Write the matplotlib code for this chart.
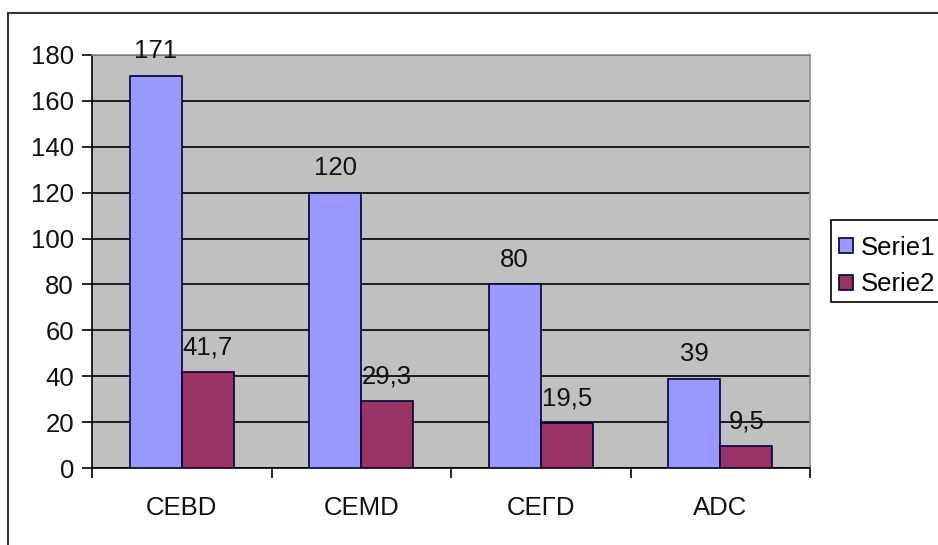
#Excel-style grouped bar chart: Serie1 vs Serie2
import numpy as np
import matplotlib
matplotlib.use("Agg")
import matplotlib.pyplot as plt
from matplotlib.lines import Line2D
from matplotlib.patches import Rectangle

#data
categories = ["CEBD", "CEMD", "CEPD", "ADC"]
tick_labels = ["CEBD", "CEMD", "CEΓD", "ADC"]
serie1 = [171, 120, 80, 39]
serie2 = [41.7, 29.3, 19.5, 9.5]
series_names = ["Serie1", "Serie2"]
y_ticks = [0, 20, 40, 60, 80, 100, 120, 140, 160, 180]

#style
BLUE = "#9999FF"
RED = "#993366"
BG = "#C0C0C0"
W = 938; H = 545
FS = 18.5

plt.rcParams["font.family"] = ["Liberation Sans", "DejaVu Sans"]

fig = plt.figure(figsize=(W / 100, H / 100), dpi=100)
fig.patch.set_facecolor("white")

#outer chart frame (top and left edges visible)
fig.add_artist(Line2D([8 / W, 1.0], [1 - 13 / H, 1 - 13 / H], color="#333333", lw=1.5, transform=fig.transFigure))
fig.add_artist(Line2D([8 / W, 8 / W], [1 - 13 / H, 0.0], color="#333333", lw=1.5, transform=fig.transFigure))

ax = fig.add_axes([92 / W, 1 - 468 / H, (810 - 92) / W, (468 - 55) / H])
ax.set_facecolor(BG)

x = np.arange(len(categories))
bw = 0.29
b1 = ax.bar(x - bw / 2, serie1, bw, color=BLUE, edgecolor="#000033", linewidth=1.2, label=series_names[0], zorder=3)
b2 = ax.bar(x + bw / 2, serie2, bw, color=RED, edgecolor="#000033", linewidth=1.2, label=series_names[1], zorder=3)

#value labels with comma decimals
def fmt(v):
    return f"{v:g}".replace(".", ",")

for bars, vals in ((b1, serie1), (b2, serie2)):
    for rect, v in zip(bars, vals):
        ax.annotate(fmt(v), (rect.get_x() + rect.get_width() / 2, v), xytext=(0, 9),
                    textcoords="offset points", ha="center", va="bottom", fontsize=FS, color="#111111",
                    annotation_clip=False)

ax.set_xlim(-0.5, len(categories) - 0.5)
ax.set_ylim(0, 180)
ax.set_yticks(y_ticks)
ax.set_yticklabels([str(t) for t in y_ticks], fontsize=FS, color="#111111")
ax.set_xticks(x)
ax.set_xticklabels(tick_labels, fontsize=FS, color="#111111")
ax.set_xticks(np.arange(len(categories) + 1) - 0.5, minor=True)
ax.tick_params(axis="x", which="major", length=0, pad=20)
ax.tick_params(axis="x", which="minor", length=7, width=1.2, direction="out")
ax.tick_params(axis="y", length=7, width=1.2, direction="out", pad=6)

ax.yaxis.grid(True, color="black", lw=1.2)
ax.set_axisbelow(True)

for s in ("left", "bottom"):
    ax.spines[s].set_color("black")
    ax.spines[s].set_linewidth(1.2)
for s in ("top", "right"):
    ax.spines[s].set_color("#8a8a8a")
    ax.spines[s].set_linewidth(1.2)

#legend box runs past the right edge, like in the original
fig.add_artist(Rectangle((831 / W, 1 - 302 / H), 120 / W, 82 / H, transform=fig.transFigure,
                         facecolor="white", edgecolor="black", lw=1.2))
leg = fig.legend(handles=[b1, b2], labels=series_names, loc="center left",
                 bbox_to_anchor=(839 / W, 1 - 266 / H), fontsize=FS, frameon=False,
                 handlelength=0.55, handleheight=0.55, handletextpad=0.3, borderpad=0,
                 labelspacing=0.5, borderaxespad=0)

fig.savefig("out.png", dpi=100)
